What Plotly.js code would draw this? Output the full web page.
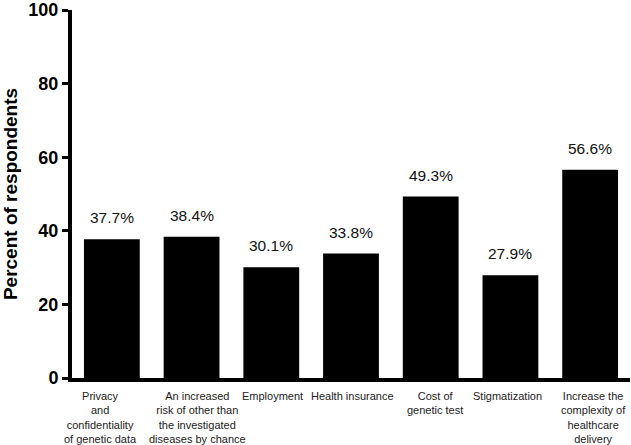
<!DOCTYPE html>
<html>
<head>
<meta charset="utf-8">
<script src="https://cdn.plot.ly/plotly-3.0.1.min.js"></script>
<style>
  html, body { margin: 0; padding: 0; background: #fff; }
  #chart { width: 631px; height: 445px; }
</style>
</head>
<body>
<div id="chart"></div>
<script>
const categories = [
    'Privacy<br>and<br>confidentiality<br>of genetic data',
    'An increased<br>risk of other than<br>the investigated<br>diseases by chance',
    'Employment',
    'Health insurance',
    'Cost of<br>genetic test',
    'Stigmatization',
    'Increase the<br>complexity of<br>healthcare<br>delivery'
];
const percents = [37.7, 38.4, 30.1, 33.8, 49.3, 27.9, 56.6];
const yTicks = [0, 20, 40, 60, 80, 100];

const bars = {
    type: 'bar',
    x: categories,
    y: percents,
    marker: { color: '#000000', line: { width: 0 } },
    hoverinfo: 'none'
};

const textFont = 'Liberation Sans, Arial, sans-serif';

// value labels sit a bit higher than plotly's own outside text
const valueLabels = percents.map((v, i) => ({
    x: categories[i],
    y: v,
    xref: 'x',
    yref: 'y',
    text: v.toFixed(1) + '%',
    showarrow: false,
    yanchor: 'bottom',
    yshift: 11,
    font: { family: textFont, size: 15.5, color: '#111' }
}));

// category labels are drawn as annotations so they can be nudged like the original
const nudge = [-11, 6, 1, 1, 4, -3, 3];
const catLabels = categories.map((c, i) => ({
    x: c,
    y: 0,
    xref: 'x',
    yref: 'paper',
    text: c,
    showarrow: false,
    yanchor: 'top',
    yshift: -10,
    xshift: nudge[i],
    align: 'center',
    font: { family: textFont, size: 11, color: '#222' }
}));

const layout = {
    width: 631,
    height: 445,
    margin: { l: 72, r: 1, t: 10, b: 67 },
    paper_bgcolor: '#fff',
    plot_bgcolor: '#fff',
    showlegend: false,
    bargap: 0.3,
    font: { family: textFont, color: '#000' },
    xaxis: {
        type: 'category',
        range: [-0.5, 6.5],
        showline: true,
        linecolor: '#000',
        linewidth: 4,
        ticks: '',
        showticklabels: false,
        showgrid: false,
        zeroline: false,
        fixedrange: true
    },
    yaxis: {
        range: [0, 100],
        tickvals: yTicks,
        ticktext: yTicks.map(String),
        showline: true,
        linecolor: '#000',
        linewidth: 4,
        ticks: 'outside',
        ticklen: 6,
        tickwidth: 3,
        tickcolor: '#000',
        showgrid: false,
        zeroline: false,
        tickfont: { size: 18, color: '#000', weight: 'bold' },
        title: {
            text: 'Percent of respondents',
            font: { size: 19, color: '#000', weight: 'bold' },
            standoff: 12
        },
        fixedrange: true
    },
    annotations: valueLabels.concat(catLabels)
};

Plotly.newPlot('chart', [bars], layout, { displayModeBar: false, staticPlot: true });
</script>
</body>
</html>
